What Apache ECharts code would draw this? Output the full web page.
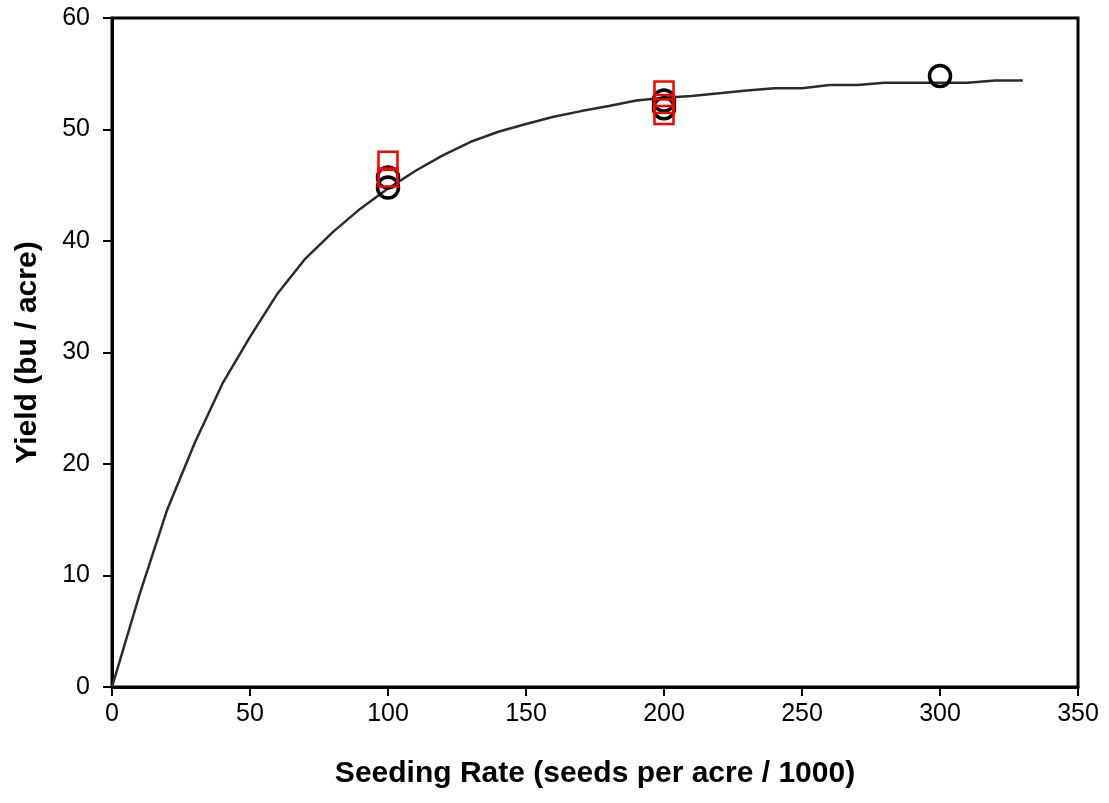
<!DOCTYPE html>
<html>
<head>
<meta charset="utf-8">
<script src="https://cdn.jsdelivr.net/npm/echarts@6/dist/echarts.min.js"></script>
<style>
  html, body { margin: 0; padding: 0; background: #fff; }
  #chart { width: 1109px; height: 803px; }
</style>
</head>
<body>
<div id="chart"></div>
<script>
// fitted curve, every 10 units
var curveX = [0, 10, 20, 30, 40, 50, 60, 70, 80, 90, 100, 110, 120, 130, 140, 150, 160,
  170, 180, 190, 200, 210, 220, 230, 240, 250, 260, 270, 280, 290, 300, 310, 320, 330]
var curveY = [0, 8.3, 15.9, 21.9, 27.2, 31.4, 35.3, 38.4, 40.8, 42.9, 44.7, 46.3, 47.7, 48.9,
  49.8, 50.5, 51.15, 51.65, 52.1, 52.6, 52.85, 53.0, 53.25, 53.5, 53.7, 53.7, 54.0, 54.0,
  54.2, 54.2, 54.2, 54.2, 54.4, 54.4]

// observed yields
var circleX = [100, 100, 200, 200, 300]
var circleY = [44.8, 45.7, 51.9, 52.6, 54.8]
var squareX = [100, 100, 200, 200, 200]
var squareY = [45.7, 47.2, 51.3, 52.3, 53.5]

function pairs (xs, ys) {
  return xs.map(function (x, i) { return [x, ys[i]] })
}

var font = 'Liberation Sans, Arial, sans-serif'
var myChart = echarts.init(document.getElementById('chart'))
myChart.setOption({
  animation: false,
  grid: {
    left: 112,
    top: 18,
    right: 31,
    bottom: 116,
    show: true,
    borderColor: '#000',
    borderWidth: 3
  },
  xAxis: {
    type: 'value',
    min: 0,
    max: 350,
    interval: 50,
    name: 'Seeding Rate (seeds per acre / 1000)',
    nameLocation: 'middle',
    nameGap: 72,
    nameTextStyle: { fontFamily: font, fontSize: 30, fontWeight: 'bold', color: '#000' },
    axisLine: { show: true, lineStyle: { color: '#000', width: 3 } },
    axisTick: { show: true, length: 9, lineStyle: { color: '#000', width: 2 } },
    axisLabel: { fontFamily: font, fontSize: 25, color: '#000', margin: 15 },
    splitLine: { show: false }
  },
  yAxis: {
    type: 'value',
    min: 0,
    max: 60,
    interval: 10,
    name: 'Yield (bu / acre)',
    nameLocation: 'middle',
    nameGap: 69,
    nameTextStyle: { fontFamily: font, fontSize: 30, fontWeight: 'bold', color: '#000' },
    axisLine: { show: true, lineStyle: { color: '#000', width: 3 } },
    axisTick: { show: true, length: 9, lineStyle: { color: '#000', width: 2 } },
    axisLabel: { fontFamily: font, fontSize: 25, color: '#000', margin: 22 },
    splitLine: { show: false }
  },
  series: [
    {
      type: 'line',
      data: pairs(curveX, curveY),
      showSymbol: false,
      lineStyle: { color: '#2b2b2b', width: 2.5 },
      z: 1
    },
    {
      type: 'scatter',
      data: pairs(circleX, circleY),
      symbol: 'circle',
      symbolSize: 21,
      itemStyle: { color: 'rgba(0,0,0,0)', borderColor: '#000', borderWidth: 3.5, opacity: 1 },
      z: 2
    },
    {
      type: 'scatter',
      data: pairs(squareX, squareY),
      symbol: 'rect',
      symbolSize: [19, 18],
      itemStyle: { color: 'rgba(0,0,0,0)', borderColor: '#f00', borderWidth: 2.5, opacity: 1 },
      z: 3
    }
  ]
})
</script>
</body>
</html>
